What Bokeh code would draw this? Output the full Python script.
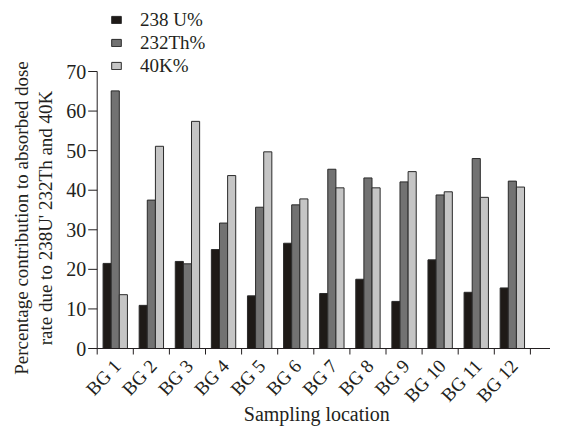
import numpy as np
from bokeh.plotting import figure
from bokeh.models import ColumnDataSource, Range1d, Legend, LegendItem
from bokeh.core.properties import value
from bokeh.transform import dodge
from bokeh.embed import file_html
from bokeh.resources import INLINE

locations = ["BG 1", "BG 2", "BG 3", "BG 4", "BG 5", "BG 6",
             "BG 7", "BG 8", "BG 9", "BG 10", "BG 11", "BG 12"]
u238 = [21.5, 10.9, 22.0, 25.0, 13.3, 26.6, 13.9, 17.5, 11.9, 22.4, 14.2, 15.3]
th232 = [65.1, 37.5, 21.4, 31.7, 35.7, 36.3, 45.3, 43.1, 42.1, 38.8, 48.0, 42.3]
k40 = [13.6, 51.1, 57.4, 43.7, 49.7, 37.8, 40.6, 40.6, 44.7, 39.6, 38.2, 40.8]
series_names = ["238 U%", "232Th%", "40K%"]
y_ticks = [0, 10, 20, 30, 40, 50, 60, 70]
x_title = "Sampling location"
y_title_lines = ["Percentage contribution to absorbed dose",
                 "rate due to 238U' 232Th and 40K"]

FONT = "Liberation Serif"
TXT = "#231f20"
n = len(locations)
pos = np.arange(n) + 0.5
bounds = np.arange(n + 2)
src = ColumnDataSource(dict(x=pos, u=u238, th=th232, k=k40, lab=locations))

# pixel geometry of the plotting area (frame covers the whole canvas)
W, H = 550, 427
X0_PX, SLOT_PX = 96.7, 36.1          # left end of category axis, width of a slot
Y0_PX, Y70_PX = 348.0, 71.0          # screen rows of value 0 and 70
PPU = (Y0_PX - Y70_PX) / 70.0
p = figure(width=W, height=H, output_backend="svg", toolbar_location=None,
           x_axis_location=None, y_axis_location=None,
           x_range=Range1d(-X0_PX / SLOT_PX, (W - X0_PX) / SLOT_PX),
           y_range=Range1d(-(H - Y0_PX) / PPU, Y0_PX / PPU),
           min_border_left=0, min_border_right=0, min_border_top=0, min_border_bottom=0)
p.outline_line_color = None
p.grid.visible = False

w = 0.225
cols = ["#1e1a17", "#727272", "#c5c5c5"]
r1 = p.vbar(x=dodge("x", -w, range=p.x_range), top="u", width=w, source=src,
            fill_color=cols[0], line_color="#2a2a2a", line_width=1)
r2 = p.vbar(x="x", top="th", width=w, source=src,
            fill_color=cols[1], line_color="#2a2a2a", line_width=1)
r3 = p.vbar(x=dodge("x", w, range=p.x_range), top="k", width=w, source=src,
            fill_color=cols[2], line_color="#2a2a2a", line_width=1)

# ---- x axis: line, boundary ticks, category labels, title
p.segment(x0=[0], y0=[0], x1=[p.x_range.end], y1=[0], line_color=TXT, line_width=1)
p.segment(x0=bounds, y0=np.zeros(len(bounds)), x1=bounds,
          y1=np.full(len(bounds), -6 / PPU), line_color=TXT, line_width=1)
p.text(x="x", y=0, text="lab", source=src, angle=0.82, text_align="right",
       text_baseline="middle", x_offset=2, y_offset=14,
       text_font=value(FONT), text_font_size="19px", text_color=TXT)
p.text(x=[n / 2], y=[0], text=[x_title], text_align="center",
       text_baseline="alphabetic", x_offset=3, y_offset=65,
       text_font=value(FONT), text_font_size="20px", text_color=TXT)

# ---- y axis: line, ticks, labels, two-line title
p.segment(x0=[0], y0=[y_ticks[0]], x1=[0], y1=[y_ticks[-1]], line_color=TXT, line_width=1)
p.segment(x0=np.zeros(len(y_ticks)), y0=y_ticks, x1=np.full(len(y_ticks), -9 / SLOT_PX),
          y1=y_ticks, line_color=TXT, line_width=1)
p.text(x=0, y=y_ticks, text=[str(t) for t in y_ticks], text_align="right",
       text_baseline="middle", x_offset=-11, y_offset=0,
       text_font=value(FONT), text_font_size="20px", text_color=TXT)
ysrc = ColumnDataSource(dict(t=y_title_lines, xo=[-75.5, -51.5]))
p.text(x=0, y=float(np.mean(y_ticks)), text="t", source=ysrc, angle=np.pi / 2,
       text_align="center", text_baseline="middle", x_offset="xo", y_offset=8,
       text_font=value(FONT), text_font_size="19px", text_color=TXT)

legend = Legend(items=[LegendItem(label=series_names[0], renderers=[r1]),
                       LegendItem(label=series_names[1], renderers=[r2]),
                       LegendItem(label=series_names[2], renderers=[r3])],
                location=(110, 350), orientation="vertical")
legend.border_line_color = None
legend.background_fill_alpha = 0
legend.padding = 0
legend.margin = 0
legend.spacing = 0
legend.glyph_width = 12
legend.glyph_height = 9
legend.label_height = 23
legend.label_standoff = 18
legend.label_text_font = FONT
legend.label_text_font_size = "19px"
legend.label_text_color = TXT
p.add_layout(legend, "center")

open("out.html", "w").write(file_html(p, INLINE))
